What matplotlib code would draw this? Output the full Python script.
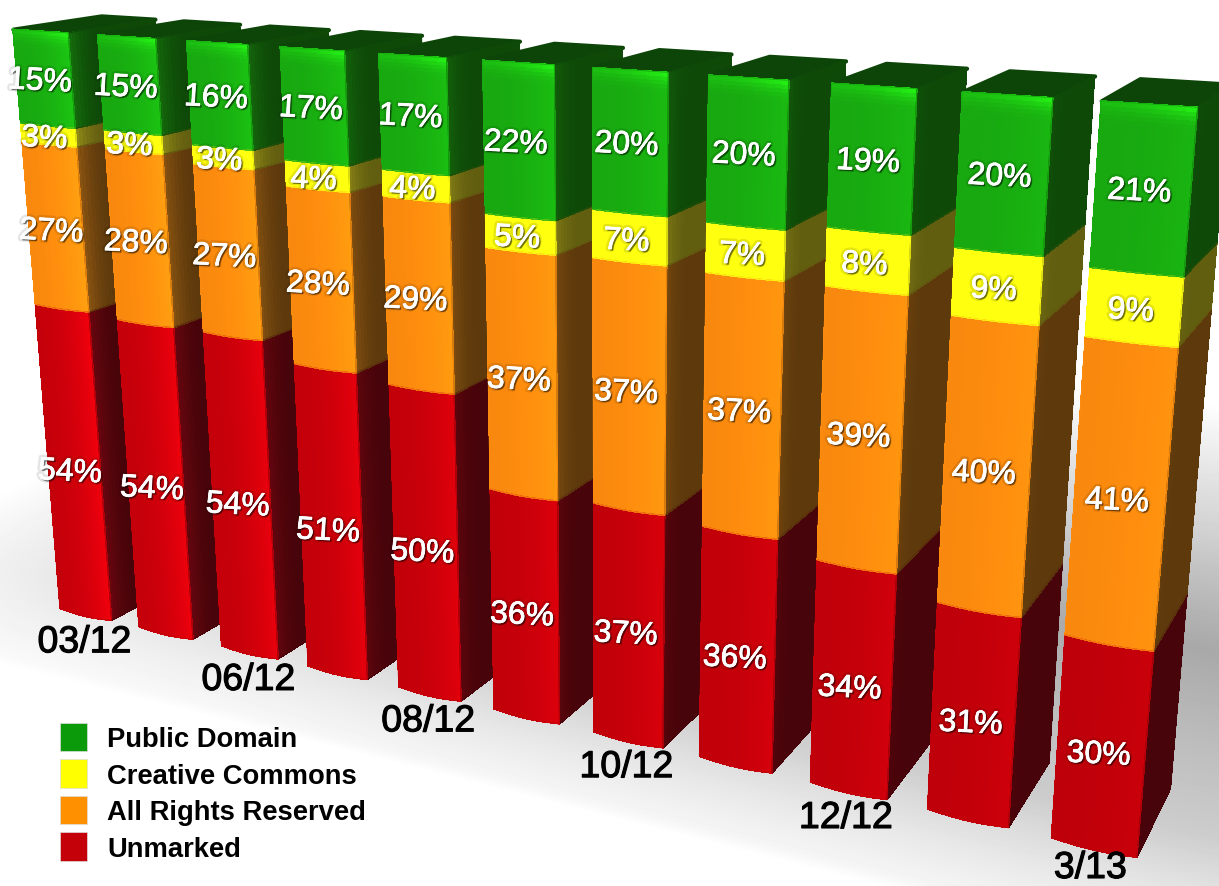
#!/usr/bin/env python3
# stacked 3D columns, rights status of works per month
import numpy as np
import matplotlib
matplotlib.use('Agg')
import matplotlib.pyplot as plt
import matplotlib.patheffects as pe
from matplotlib.collections import PolyCollection
from matplotlib.colors import to_rgb
from matplotlib.patches import Patch

plt.rcParams['font.family'] = ['Liberation Sans', 'DejaVu Sans']

dates = ['03/12', '', '06/12', '', '08/12', '', '10/12', '', '12/12', '', '3/13']
unmarked = [54, 54, 54, 51, 50, 36, 37, 36, 34, 31, 30]
all_rights = [27, 28, 27, 28, 29, 37, 37, 37, 39, 40, 41]
creative = [3, 3, 3, 4, 4, 5, 7, 7, 8, 9, 9]
public = [15, 15, 16, 17, 17, 22, 20, 20, 19, 20, 21]
series_names = ['Public Domain', 'Creative Commons', 'All Rights Reserved', 'Unmarked']
legend_colors = ['#0a9a0a', '#ffff00', '#ff9000', '#c40008']
front_colors = ['#c4000a', '#fd8c0e', '#ffff10', '#18ac10']
side_colors = ['#48040a', '#5f3a0c', '#646010', '#0e4a08']
top_color = '#0d4508'
highlight = '#24f014'

WIDTH = 0.66   # column width, 1 = column spacing
# camera for (column, percent, depth) -> pixel
CAMERA = np.array([
    [75.85755692, -0.48131912, 86.63246212, 59.99464355],
    [4.34691575, -5.81711374, -11.33918985, 609.49345769],
    [-0.02214080, -0.00078907, 0.05219347, 1.0],
])


def project(x, y, z):
    h = CAMERA @ np.array([x, y, z, 1.0])
    return h[0] / h[2], h[1] / h[2]


def floor_shadow():
    # grey floor, worked out in floor coordinates for every pixel
    inv = np.linalg.inv(CAMERA[:, [0, 2, 3]])
    px, py = np.meshgrid(np.arange(1219) + 0.5, np.arange(887) + 0.5)
    s = inv[2, 0] * px + inv[2, 1] * py + inv[2, 2]
    x = (inv[0, 0] * px + inv[0, 1] * py + inv[0, 2]) / s
    z = (inv[1, 0] * px + inv[1, 1] * py + inv[1, 2]) / s
    dark = np.interp(z, [-1.05, -0.9, -0.3, 0.5, 3.4, 6, 10], [0, .04, .1, .2, .34, .18, 0])
    dark = dark * np.interp(x, [-3, 0, 5, 10], [0, .55, .9, 1])
    return 1 - dark


def shade(color, factor):
    return tuple(min(1.0, c * factor) for c in to_rgb(color))


def level(y, u):
    # boundaries sag a little, less so higher up
    return y - 0.4 * np.sin(np.pi * u) * (1 - y / 100)


def draw_column(ax, i, order):
    layers = [unmarked, all_rights, creative, public]
    total = sum(l[i] for l in layers)
    x0, x1 = i, i + WIDTH
    left_weight = (10 - i) / 10  # left columns carry a stronger sheen

    top = [[project(x0, 100, 0), project(x1, 100, 0), project(x1, 100, 1), project(x0, 100, 1)]]
    ax.add_collection(PolyCollection(top, facecolors=[top_color], edgecolors=[top_color], linewidths=3,
                                     joinstyle='round', zorder=order))

    polys, cols = [], []
    outlines, outline_cols = [], []
    base = 0
    for k, (l, fc, sc) in enumerate(zip(layers, front_colors, side_colors)):
        lo = 100 * base / total
        hi = 100 * (base + l[i]) / total
        base += l[i]
        # side face
        us = np.linspace(0, 1, 25)
        for a, b in zip(us[:-1], us[1:]):
            polys.append([project(x1, lo, a), project(x1, hi, a), project(x1, hi, b), project(x1, lo, b)])
            cols.append(shade(sc, 0.98 + (0.06 + 0.4 * left_weight) * max(0, 1 - a * 3) ** 2))
        outlines.append([project(x1, lo, 0), project(x1, hi, 0), project(x1, hi, 1), project(x1, lo, 1)])
        outline_cols.append(shade(sc, 1.0))
        # front face in strips
        us = np.linspace(0, 1, 31)
        outline = []
        for a in us:
            outline.append(project(x0 + a * WIDTH, level(lo, a), 0))
        for a in us[::-1]:
            outline.append(project(x0 + a * WIDTH, level(hi, a) if k < 3 else hi, 0))
        outlines.append(outline)
        outline_cols.append(shade(fc, 1.0))
        for a, b in zip(us[:-1], us[1:]):
            xa, xb = x0 + a * WIDTH, x0 + b * WIDTH
            if k == 0:
                f = 0.97 + 0.04 * left_weight + (0.06 + 0.16 * left_weight) * a ** 2
            elif k == 2:
                f = 1.0
            else:
                f = 0.98 + (0.07 + 0.1 * left_weight) * a ** 2
            if k == 3:
                # bright rim along the top of the green block
                ys = np.linspace(hi - 2.6, hi, 6)
                polys.append([project(xa, level(lo, a), 0), project(xb, level(lo, b), 0),
                              project(xb, ys[0], 0), project(xa, ys[0], 0)])
                cols.append(shade(fc, f))
                for m, (ya, yb) in enumerate(zip(ys[:-1], ys[1:])):
                    t = ((m + 1) / 5) ** 2 * (0.3 + 0.7 * a ** 2)
                    c = np.array(shade(fc, f)) * (1 - t) + np.array(to_rgb(highlight)) * t
                    polys.append([project(xa, ya, 0), project(xb, ya, 0), project(xb, yb, 0), project(xa, yb, 0)])
                    cols.append(tuple(c))
            else:
                polys.append([project(xa, level(lo, a), 0), project(xb, level(lo, b), 0),
                              project(xb, level(hi, b), 0), project(xa, level(hi, a), 0)])
                cols.append(shade(fc, f))

    # strips without antialiasing so they leave no seams, outlines smooth the block edges
    ax.add_collection(PolyCollection(polys, facecolors=cols, edgecolors=cols, linewidths=0.3,
                                     antialiaseds=False, zorder=order))
    ax.add_collection(PolyCollection(outlines, facecolors='none', edgecolors=outline_cols, linewidths=0.7,
                                     joinstyle='round', zorder=order))


def _main():
    fig = plt.figure(figsize=(12.19, 8.87), dpi=100)
    ax = fig.add_axes([0, 0, 1, 1])
    ax.imshow(floor_shadow(), cmap='gray', vmin=0, vmax=1, extent=(0, 1219, 887, 0), aspect='auto', zorder=0)
    ax.set_xlim(0, 1219)
    ax.set_ylim(887, 0)
    ax.axis('off')

    for i in range(len(dates)):
        draw_column(ax, i, 2 + i)

    label_fx = [pe.withStroke(linewidth=4, foreground=(0, 0, 0, 0.10)),
                pe.SimplePatchShadow(offset=(1.2, -1.2), shadow_rgbFace='k', alpha=0.5),
                pe.Stroke(linewidth=0.5, foreground='white'), pe.Normal()]
    for i in range(len(dates)):
        base = 0
        layers = [unmarked, all_rights, creative, public]
        total = sum(l[i] for l in layers)
        for l in layers:
            mid = 100 * (base + l[i] / 2) / total
            base += l[i]
            u, v = project(i + WIDTH / 2 - 0.05, mid, 0)
            u += 0.4 * i
            v += 3 + 8 * (1 - mid / 100)
            ax.text(u, v, '{}%'.format(l[i]), color='white', fontsize=23, ha='center', va='center',
                    rotation=-3, rotation_mode='anchor', zorder=20, path_effects=label_fx)
        if dates[i]:
            u, v = project(i + WIDTH / 2 - 0.04, -4.6, 0)
            ax.text(u + 0.4 * i, min(v + 4 - 0.6 * i, 869), dates[i], color='black', fontsize=27,
                    ha='center', va='center', zorder=20,
                    path_effects=[pe.Stroke(linewidth=0.8, foreground='black'), pe.Normal()])

    handles = [Patch(facecolor=c, edgecolor='#dddddd', linewidth=0.5) for c in legend_colors]
    leg = ax.legend(handles, series_names, loc='upper left', bbox_to_anchor=(60, 724),
                    bbox_transform=ax.transData, frameon=False, prop={'size': 19.7, 'weight': 'bold'},
                    handlelength=1.0, handleheight=1.21, handletextpad=0.73, labelspacing=0.26,
                    borderpad=0, borderaxespad=0)
    leg.set_zorder(20)

    fig.savefig('out.png', dpi=100)


if __name__ == "__main__":
    _main()
